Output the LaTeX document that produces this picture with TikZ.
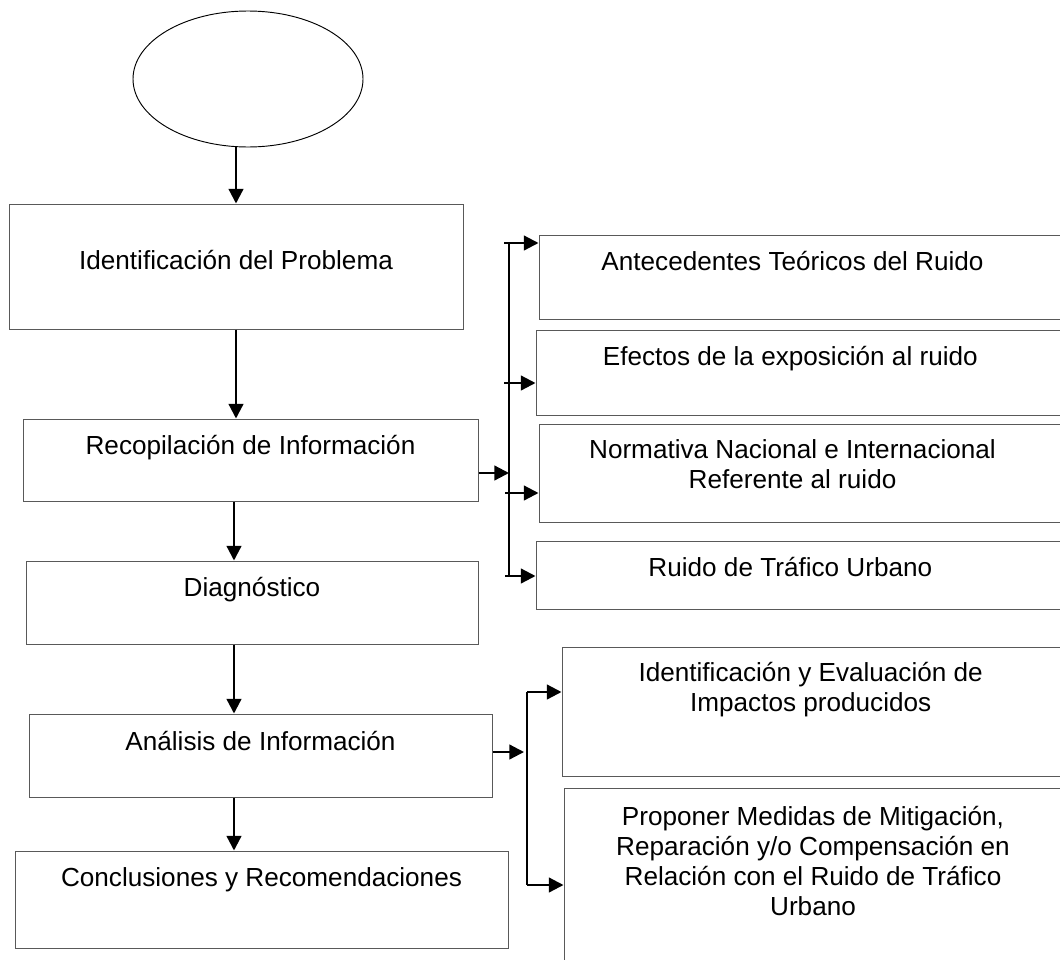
\documentclass[tikz,border=0pt]{standalone}
\usepackage{fontspec}
\setmainfont{Liberation Sans}
\usetikzlibrary{arrows.meta,shapes.geometric}

\tikzset{
  box/.style={draw=black!65,line width=.75pt,rectangle,inner sep=0pt},
  lbl/.style={anchor=north,align=center,inner sep=0pt,
    font=\fontsize{19.6}{22.5}\selectfont,execute at begin node=\rule{0pt}{15pt}},
  arr/.style={line width=1.7pt,-{Triangle[length=11pt,width=11pt]}},
  bus/.style={line width=1.2pt}
}

\begin{document}
\begin{tikzpicture}[x=.75pt,y=-.75pt]
  \useasboundingbox (0,0) rectangle (1060,960);
  % main column
  \node[draw,ellipse,line width=.7pt,inner sep=0pt,minimum width=172.5pt,minimum height=102pt] (inicio) at (248,79) {};
  \node[box,minimum width=340.5pt,minimum height=93.75pt,
    label={[lbl,yshift=-34pt]north:Identificación del Problema}] (ident) at (236,266.5) {};
  \node[box,minimum width=341.25pt,minimum height=61.5pt,
    label={[lbl,yshift=-11.5pt]north:Recopilación de Información}] (recop) at (250.5,460) {};
  \node[box,minimum width=339pt,minimum height=62.25pt,
    label={[lbl,yshift=-11.5pt]north:Diagnóstico}] (diag) at (252,602.5) {};
  \node[box,minimum width=347.25pt,minimum height=62.25pt,
    label={[lbl,yshift=-12.5pt]north:Análisis de Información}] (anal) at (260.5,755.5) {};
  \node[box,minimum width=369.75pt,minimum height=72.75pt,
    label={[lbl,yshift=-11.5pt]north:Conclusiones y Recomendaciones}] (concl) at (261.5,899.5) {};
  % right column
  \node[box,minimum width=398.25pt,minimum height=63pt,
    label={[lbl,xshift=-9pt,yshift=-12pt]north:Antecedentes Teóricos del Ruido}] (antec) at (804.5,277) {};
  \node[box,minimum width=400.5pt,minimum height=63.75pt,
    label={[lbl,xshift=-9.5pt,yshift=-12pt]north:Efectos de la exposición al ruido}] (efect) at (803,372.5) {};
  \node[box,minimum width=398.25pt,minimum height=73.5pt,
    label={[lbl,xshift=-9pt,yshift=-11.5pt]north:Normativa Nacional e Internacional\\Referente al ruido}] (norma) at (804.5,473) {};
  \node[box,minimum width=400.5pt,minimum height=51pt,
    label={[lbl,xshift=-9.5pt,yshift=-11.5pt]north:Ruido de Tráfico Urbano}] (ruido) at (803,575) {};
  \node[box,minimum width=381pt,minimum height=96.75pt,
    label={[lbl,xshift=-4pt,yshift=-11.5pt]north:Identificación y Evaluación de\\Impactos producidos}] (impac) at (816,711.5) {};
  \node[box,minimum width=379.5pt,minimum height=140.25pt,
    label={[lbl,xshift=-3pt,yshift=-13.5pt]north:{Proponer Medidas de Mitigación,\\Reparación y/o Compensación en\\Relación con el Ruido de Tráfico\\Urbano}}] (medid) at (817,881.5) {};

  % flow arrows
  \coordinate (eje) at (234,0);
  \draw[arr] (inicio.south -| ident.north) -- (ident.north);
  \draw[arr] (ident.south) -- (ident.south |- recop.north);
  \draw[arr] (recop.south -| eje) -- (diag.north -| eje);
  \draw[arr] (diag.south -| eje) -- (anal.north -| eje);
  \draw[arr] (anal.south -| eje) -- (concl.north -| eje);

  % first branch
  \coordinate (r1) at (509,473);
  \coordinate (b1) at (504,243);
  \coordinate (b2) at (504,383);
  \coordinate (b3) at (505,493);
  \coordinate (b4) at (505,576);
  \draw[arr] (recop.east |- r1) -- (r1);
  \draw[bus] (b1 -| r1) -- (b4 -| r1);
  \foreach \b/\n in {b1/antec,b2/efect,b3/norma,b4/ruido}
    \draw[arr] (\b) -- (\b -| \n.west);

  % second branch
  \coordinate (r2) at (524,752);
  \coordinate (c1) at (527,692);
  \coordinate (c2) at (527,885);
  \draw[arr] (anal.east |- r2) -- (r2);
  \draw[bus] (c1) -- (c2);
  \draw[arr] (c1) -- (c1 -| impac.west);
  \draw[arr] (c2) -- (c2 -| medid.west);
\end{tikzpicture}
\end{document}
